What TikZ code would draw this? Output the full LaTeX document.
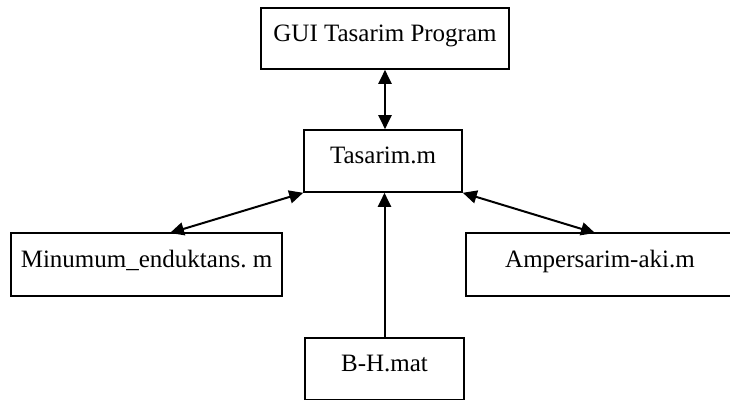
\documentclass[tikz,border=0pt]{standalone}
\usepackage{fontspec}
\setmainfont{Liberation Serif}
\usetikzlibrary{arrows.meta,calc}
\frenchspacing

\tikzset{
    filebox/.style={draw, line width=0.8pt, inner sep=0pt, font=\fontsize{12.5}{15}\selectfont,
        text height=8pt, text depth=5pt},
    link/.style={line width=1pt, -{Triangle[length=7pt,width=6.5pt]}},
    dlink/.style={line width=1pt, {Triangle[length=7pt,width=6.5pt]}-{Triangle[length=7pt,width=6.5pt]}}
}

\begin{document}
\begin{tikzpicture}[x=0.5pt, y=-0.5pt]
    \useasboundingbox (0,0) rectangle (730,400);
    \clip (0,0) rectangle (730,400);

    \node[filebox, minimum width=124pt, minimum height=30.5pt] (gui) at (385, 38.5) {GUI Tasarim Program};
    \node[filebox, minimum width=79pt, minimum height=31pt] (tas) at (383, 161) {Tasarim.m};
    \node[filebox, minimum width=135.5pt, minimum height=31.5pt] (minu) at (146.5, 264.5) {Minumum\_enduktans. m};
    \node[filebox, minimum width=134pt, minimum height=31.5pt] (amp) at (600, 264.5) {Ampersarim-aki.m};
    \node[filebox, minimum width=79.5pt, minimum height=31pt] (bh) at (384.5, 369) {B-H.mat};

    \coordinate (minutop) at (170, 233);
    \coordinate (amptop) at (595, 233);

    \draw[dlink] (gui.south) -- (gui.south |- tas.north);
    \draw[dlink] (tas.south west) -- (minutop);
    \draw[dlink] (tas.south east) -- (amptop);
    \draw[link] (bh.north) -- (bh.north |- tas.south);
\end{tikzpicture}
\end{document}
